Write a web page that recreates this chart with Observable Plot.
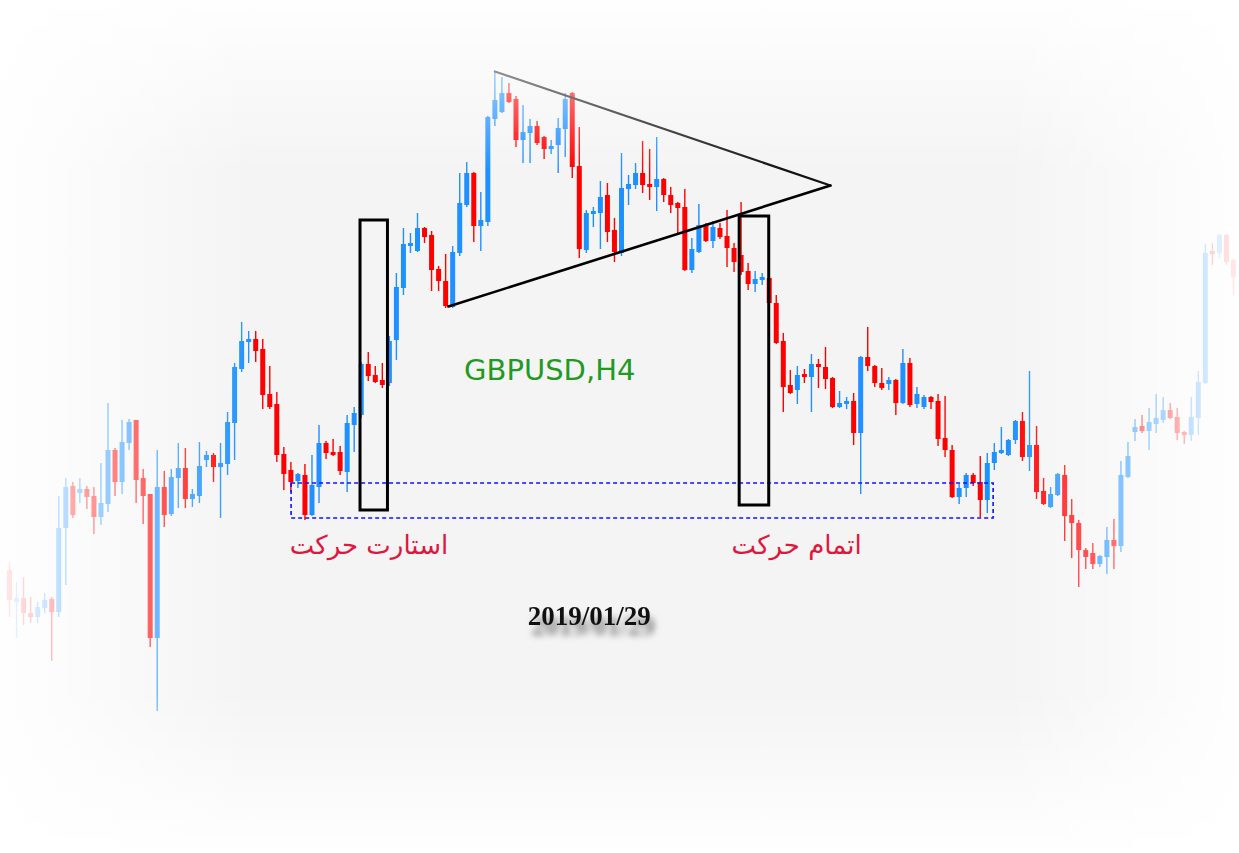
<!DOCTYPE html>
<html>
<head>
<meta charset="utf-8">
<script src="https://cdn.jsdelivr.net/npm/d3@7"></script>
<script src="https://cdn.jsdelivr.net/npm/@observablehq/plot@0.6"></script>
<style>
  html, body { margin: 0; padding: 0; background: #fff; }
  #wrap { position: relative; width: 1239px; height: 853px; background: #f4f4f4; overflow: hidden; }
  #chart svg { display: block; }
  #fade { position: absolute; left: 0; top: 0; width: 1239px; height: 853px; pointer-events: none;
    background:
      linear-gradient(to right, rgba(255,255,255,0.93) 0px, rgba(255,255,255,0) 255px),
      linear-gradient(to left, rgba(255,255,255,0.93) 0px, rgba(255,255,255,0) 234px),
      linear-gradient(to bottom, rgba(255,255,255,0.92) 0px, rgba(255,255,255,0) 172px),
      linear-gradient(to top, rgba(255,255,255,0.97) 0px, rgba(255,255,255,0) 160px);
  }
</style>
</head>
<body>
<div id="wrap"><div id="chart"></div><div id="fade"></div></div>
<script>
// GBPUSD H4 bars (bar number 0..174), prices
const bars = d3.range(175);
const open = [
1.2830,1.2798,1.2802,1.2787,1.2783,1.2792,1.2801,1.2788,1.2872,1.2914,
1.2907,1.2911,1.2904,1.2883,1.2896,1.2950,1.2918,1.2957,1.2980,1.2922,
1.2906,1.2762,1.2913,1.2886,1.2922,1.2932,1.2901,1.2904,1.2940,1.2945,
1.2933,1.2936,1.2977,1.3031,1.3058,1.3061,1.3051,1.3006,1.2996,1.2946,
1.2930,1.2919,1.2925,1.2885,1.2913,1.2957,1.2948,1.2948,1.2928,1.2975,
1.2985,1.3036,1.3025,1.3020,1.3017,1.3060,1.3112,1.3154,1.3149,1.3172,
1.3165,1.3131,1.3119,1.3093,1.3147,1.3195,1.3227,1.3174,1.3178,1.3281,
1.3288,1.3307,1.3301,1.3260,1.3267,1.3274,1.3263,1.3251,1.3255,1.3271,
1.3307,1.3234,1.3150,1.3186,1.3187,1.3205,1.3170,1.3147,1.3211,1.3215,
1.3227,1.3216,1.3213,1.3221,1.3205,1.3197,1.3193,1.3130,1.3148,1.3175,
1.3159,1.3172,1.3164,1.3152,1.3145,1.3129,1.3116,1.3120,1.3122,1.3097,
1.3059,1.3015,1.3010,1.3026,1.3023,1.3036,1.3033,1.3022,1.2993,1.2996,
1.2999,1.2967,1.3043,1.3034,1.3017,1.3016,1.3020,1.2997,1.3037,1.2996,
1.2993,1.3003,1.2999,1.2962,1.2950,1.2903,1.2912,1.2925,1.2918,1.2900,
1.2937,1.2947,1.2945,1.2960,1.2979,1.2943,1.2955,1.2909,1.2893,1.2905,
1.2925,1.2885,1.2877,1.2850,1.2847,1.2836,1.2843,1.2860,1.2854,1.2923,
1.2968,1.2974,1.2969,1.2976,1.2980,1.2990,1.2983,1.2968,1.2965,1.2982,
1.3017,1.3149,1.3147,1.3165,1.3140];
const high = [
1.2838,1.2818,1.2823,1.2803,1.2798,1.2807,1.2803,1.2904,1.2922,1.2918,
1.2922,1.2914,1.2913,1.2937,1.2997,1.2952,1.2980,1.2981,1.2980,1.2931,
1.2906,1.2950,1.2929,1.2931,1.2957,1.2952,1.2911,1.2958,1.2949,1.2947,
1.2957,1.2988,1.3037,1.3078,1.3069,1.3069,1.3061,1.3034,1.3008,1.2953,
1.2938,1.2927,1.2936,1.2945,1.2975,1.2959,1.2961,1.2954,1.2985,1.2993,
1.3038,1.3048,1.3034,1.3037,1.3064,1.3127,1.3172,1.3167,1.3187,1.3173,
1.3169,1.3134,1.3146,1.3154,1.3227,1.3238,1.3228,1.3208,1.3284,1.3328,
1.3323,1.3317,1.3304,1.3295,1.3281,1.3279,1.3264,1.3260,1.3282,1.3307,
1.3308,1.3273,1.3190,1.3193,1.3219,1.3217,1.3182,1.3247,1.3225,1.3237,
1.3259,1.3251,1.3263,1.3222,1.3213,1.3198,1.3211,1.3162,1.3196,1.3177,
1.3179,1.3177,1.3190,1.3157,1.3198,1.3137,1.3129,1.3127,1.3124,1.3105,
1.3067,1.3030,1.3034,1.3031,1.3046,1.3041,1.3053,1.3023,1.3009,1.3003,
1.3007,1.3044,1.3073,1.3035,1.3032,1.3023,1.3021,1.3051,1.3042,1.3013,
1.3005,1.3004,1.3006,1.3004,1.2955,1.2916,1.2927,1.2927,1.2944,1.2947,
1.2957,1.2973,1.2961,1.2980,1.2988,1.3029,1.2974,1.2922,1.2913,1.2927,
1.2935,1.2901,1.2880,1.2852,1.2857,1.2845,1.2873,1.2881,1.2939,1.2958,
1.2981,1.2985,1.2992,1.3006,1.3003,1.2997,1.2992,1.2969,1.3003,1.3029,
1.3156,1.3157,1.3166,1.3166,1.3141];
const low = [
1.2783,1.2762,1.2775,1.2777,1.2777,1.2787,1.2739,1.2783,1.2815,1.2882,
1.2897,1.2891,1.2866,1.2875,1.2888,1.2904,1.2906,1.2950,1.2897,1.2876,
1.2753,1.2689,1.2873,1.2884,1.2892,1.2892,1.2893,1.2897,1.2933,1.2918,
1.2882,1.2925,1.2940,1.3028,1.3037,1.3038,1.2991,1.2991,1.2938,1.2910,
1.2908,1.2912,1.2880,1.2884,1.2897,1.2941,1.2944,1.2925,1.2908,1.2948,
1.2982,1.3019,1.3017,1.3012,1.3014,1.3040,1.3105,1.3147,1.3148,1.3157,
1.3109,1.3109,1.3092,1.3092,1.3144,1.3193,1.3158,1.3149,1.3174,1.3274,
1.3287,1.3297,1.3253,1.3237,1.3237,1.3255,1.3241,1.3246,1.3227,1.3243,
1.3222,1.3142,1.3147,1.3173,1.3151,1.3158,1.3138,1.3144,1.3195,1.3211,
1.3207,1.3200,1.3189,1.3198,1.3187,1.3167,1.3129,1.3127,1.3147,1.3158,
1.3152,1.3161,1.3133,1.3128,1.3125,1.3110,1.3108,1.3115,1.3096,1.3056,
1.2988,1.3006,1.2996,1.3017,1.2988,1.3012,1.3011,1.2992,1.2992,1.2991,
1.2955,1.2906,1.3029,1.3013,1.3010,1.3010,1.2985,1.2996,1.2993,1.2992,
1.2991,1.2991,1.2954,1.2943,1.2902,1.2896,1.2903,1.2914,1.2883,1.2887,
1.2930,1.2946,1.2944,1.2956,1.2939,1.2929,1.2901,1.2895,1.2892,1.2904,
1.2859,1.2842,1.2813,1.2831,1.2831,1.2833,1.2826,1.2831,1.2848,1.2922,
1.2959,1.2967,1.2950,1.2967,1.2977,1.2981,1.2960,1.2956,1.2959,1.2965,
1.3016,1.3135,1.3142,1.3135,1.3105];
const close = [
1.2800,1.2802,1.2787,1.2783,1.2793,1.2800,1.2788,1.2872,1.2913,1.2885,
1.2911,1.2903,1.2883,1.2897,1.2950,1.2918,1.2958,1.2978,1.2920,1.2904,
1.2762,1.2913,1.2885,1.2923,1.2932,1.2901,1.2906,1.2934,1.2945,1.2933,
1.2937,1.2978,1.3033,1.3059,1.3061,1.3049,1.3005,1.2993,1.2945,1.2926,
1.2918,1.2926,1.2885,1.2915,1.2957,1.2947,1.2945,1.2929,1.2977,1.2987,
1.3036,1.3024,1.3018,1.3015,1.3059,1.3113,1.3156,1.3157,1.3172,1.3163,
1.3130,1.3119,1.3094,1.3148,1.3197,1.3227,1.3174,1.3180,1.3283,1.3300,
1.3307,1.3298,1.3260,1.3268,1.3274,1.3257,1.3251,1.3254,1.3272,1.3301,
1.3233,1.3151,1.3187,1.3189,1.3203,1.3168,1.3148,1.3212,1.3216,1.3227,
1.3215,1.3213,1.3221,1.3205,1.3195,1.3192,1.3130,1.3151,1.3175,1.3159,
1.3173,1.3163,1.3152,1.3138,1.3128,1.3116,1.3121,1.3123,1.3097,1.3057,
1.3013,1.3007,1.3025,1.3023,1.3036,1.3033,1.3021,1.2993,1.2997,1.2999,
1.2967,1.3043,1.3034,1.3017,1.3012,1.3020,1.2997,1.3037,1.2995,1.3006,
1.3003,1.2998,1.2961,1.2950,1.2903,1.2912,1.2925,1.2917,1.2900,1.2937,
1.2948,1.2950,1.2960,1.2979,1.2943,1.2955,1.2908,1.2896,1.2906,1.2926,
1.2884,1.2877,1.2850,1.2843,1.2836,1.2844,1.2860,1.2854,1.2925,1.2944,
1.2973,1.2969,1.2978,1.2982,1.2990,1.2982,1.2967,1.2965,1.2983,1.3018,
1.3147,1.3146,1.3165,1.3138,1.3123];

// Annotations (bar number, price)
const upperLine = [{bar: 69.0, price: 1.3329}, {bar: 116.7, price: 1.3215}];
const lowerLine = [{bar: 62.4, price: 1.3094}, {bar: 116.7, price: 1.3215}];
const boxes = [
  {b1: 49.9, b2: 53.8, p1: 1.2890, p2: 1.3180},
  {b1: 103.8, b2: 108.0, p1: 1.2895, p2: 1.3184}
];
const zone = [{b1: 40.1, b2: 139.9, p1: 1.2882, p2: 1.2917}];
const labels = [
  {bar: 51.1, price: 1.2855, text: "استارت حرکت"},
  {bar: 111.9, price: 1.2855, text: "اتمام حرکت"}
];
const symbolLabel = [{bar: 76.8, price: 1.3030, text: "GBPUSD,H4"}];
const dateLabel = [{bar: 82.4, price: 1.2784, text: "2019/01/29"}];

const UP = "#1e90ff", DOWN = "#ff0000";
const data = bars.map((b, i) => ({
  bar: b, o: open[i], h: high[i], l: low[i], c: close[i],
  col: close[i] >= open[i] ? UP : DOWN
}));

const chart = Plot.plot({
  width: 1239,
  height: 853,
  margin: 0,
  x: {domain: [0, 174], range: [9, 1233], axis: null},
  y: {domain: [1.2547, 1.34], range: [853, 0], axis: null},
  style: {background: "transparent", overflow: "visible"},
  marks: [
    Plot.ruleX(data, {x: "bar", y1: "l", y2: "h", stroke: "col", strokeWidth: 1.4}),
    Plot.ruleX(data, {x: "bar", y1: "o", y2: "c", stroke: "col", strokeWidth: 5}),
    Plot.rect(zone, {x1: "b1", x2: "b2", y1: "p1", y2: "p2", fill: "none", stroke: "#1010ff", strokeWidth: 1.6, strokeDasharray: "4,3"}),
    Plot.line(upperLine, {x: "bar", y: "price", stroke: "#111", strokeWidth: 2.2}),
    Plot.line(lowerLine, {x: "bar", y: "price", stroke: "#000", strokeWidth: 2.6}),
    Plot.rect(boxes, {x1: "b1", x2: "b2", y1: "p1", y2: "p2", fill: "none", stroke: "#000", strokeWidth: 3}),
    Plot.text(symbolLabel, {x: "bar", y: "price", text: "text", fill: "#1f9a22", fontSize: 29, fontFamily: "DejaVu Sans, sans-serif"}),
    Plot.text(labels, {x: "bar", y: "price", text: "text", fill: "#e0163e", fontSize: 26, fontFamily: "DejaVu Sans, sans-serif"}),
    Plot.text(dateLabel, {x: "bar", y: "price", text: "text", fill: "#111", fontSize: 27, fontWeight: "bold", fontFamily: "Liberation Serif, serif"})
  ]
});
document.getElementById("chart").append(chart);
// soft drop shadow under the date, as in the picture
d3.select(chart).selectAll("text")
  .filter(function() { return this.textContent === "2019/01/29"; })
  .style("filter", "drop-shadow(4px 10px 3px rgba(0,0,0,0.5))");
</script>
</body>
</html>
